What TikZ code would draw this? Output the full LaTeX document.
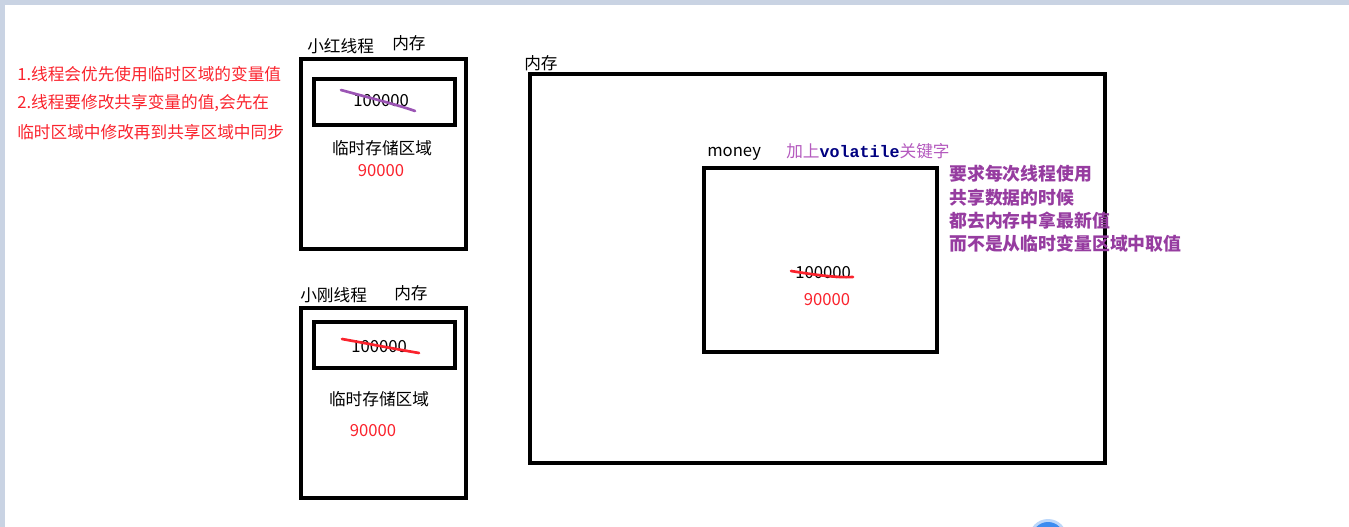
\documentclass[tikz,border=0pt]{standalone}
\usepackage{fontspec}
\newfontfamily\cjk{Noto Sans CJK SC}
\newfontfamily\codefont{Liberation Mono}
\definecolor{noteRed}{RGB}{250,35,45}
\definecolor{notePurple}{RGB}{150,60,160}
\definecolor{tagPurple}{RGB}{180,90,190}
\definecolor{strikePurple}{RGB}{155,85,180}
\definecolor{codeNavy}{RGB}{0,0,128}
\definecolor{frameGray}{RGB}{201,211,227}
\definecolor{fabBlue}{RGB}{60,140,240}
\tikzset{
  txt/.style={font=\cjk\fontsize{12.5}{15}\selectfont, inner sep=0pt},
  membox/.style={draw=black, line width=2.3pt},
  strike/.style={line width=2pt, line cap=round},
}
\begin{document}
\begin{tikzpicture}[x=0.75pt,y=-0.75pt]
\useasboundingbox (0,0) rectangle (1349,527);
% window frame
\fill[frameGray] (0,0) rectangle (1349,5);
\fill[frameGray] (0,0) rectangle (5,527);
\begin{scope}
  \clip (0,0) rectangle (1349,527);
  \fill[fabBlue!35] (1048,538) circle (19);
  \fill[fabBlue] (1048,538) circle (16);
\end{scope}

% notes on the left
\node[txt, noteRed, anchor=west] (note1) at (17,74) {1.线程会优先使用临时区域的变量值};
\node[txt, noteRed, anchor=west] (note2) at (17,103) {2.线程要修改共享变量的值,会先在};
\node[txt, noteRed, anchor=west] (note3) at (17,132) {临时区域中修改再到共享区域中同步};

% thread 1
\draw[membox] (301,59) rectangle (466,249);
\draw[membox] (314,79) rectangle (455,125);
\node[txt, anchor=west] (redName) at (307,46) {小红线程};
\node[txt, anchor=west] (redMem) at (392,43) {内存};
\node[txt] (redOld) at (381,101) {100000};
\draw[strike, strikePurple] (341,90) .. controls (370,98) and (395,104) .. (415,111);
\node[txt] (redTemp) at (382,148) {临时存储区域};
\node[txt, noteRed] (redNew) at (381,171) {90000};

% thread 2
\draw[membox] (301,308) rectangle (466,498);
\draw[membox] (314,322) rectangle (455,368);
\node[txt, anchor=west] (gangName) at (300,295) {小刚线程};
\node[txt, anchor=west] (gangMem) at (394,293) {内存};
\node[txt] (gangOld) at (379,347) {100000};
\draw[strike, noteRed] (342,339) .. controls (370,344) and (395,349) .. (419,353);
\node[txt] (gangTemp) at (379,399) {临时存储区域};
\node[txt, noteRed] (gangNew) at (373,431) {90000};

% main memory
\draw[membox] (530,74) rectangle (1105,463);
\node[txt, anchor=west] (mainMem) at (524,63) {内存};
\draw[membox] (704,168) rectangle (937,352);
\node[txt, anchor=west] (money) at (707,154) {money};
\node[txt, tagPurple, anchor=west] (tag) at (786,151)
  {加上{\codefont\bfseries\color{codeNavy}volatile}关键字};
\node[txt, notePurple, anchor=north west, align=left, font=\cjk\bfseries\fontsize{13.4}{17.5}\selectfont]
  (rule) at (949,165) {要求每次线程使用\\共享数据的时候\\都去内存中拿最新值\\而不是从临时变量区域中取值};
\node[txt] (mainOld) at (823,273) {100000};
\draw[strike, noteRed] (791,271) .. controls (810,274) and (835,278) .. (853,277);
\node[txt, noteRed] (mainNew) at (827,300) {90000};
\end{tikzpicture}
\end{document}
